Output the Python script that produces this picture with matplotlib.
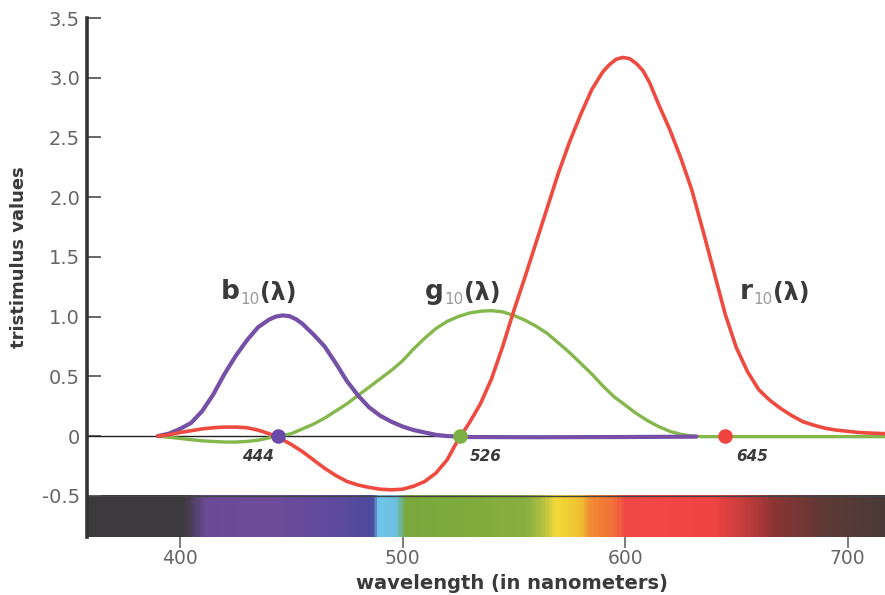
import numpy as np
import matplotlib
matplotlib.use('Agg')
import matplotlib.pyplot as plt
from matplotlib.colors import LinearSegmentedColormap

# tristimulus curves (wavelength in nm)
b_nm = [390, 395, 400, 405, 410, 415, 420, 425, 430, 435, 440, 443, 446, 449, 452, 455, 460,
        465, 470, 475, 480, 485, 490, 495, 500, 505, 510, 515, 520, 530, 560, 600, 632]
b_val = [0.0, 0.02, 0.06, 0.11, 0.21, 0.35, 0.52, 0.67, 0.80, 0.91, 0.975, 1.0, 1.01, 1.005, 0.98,
         0.94, 0.85, 0.75, 0.61, 0.46, 0.34, 0.24, 0.17, 0.12, 0.08, 0.05, 0.03, 0.01, 0.0,
         -0.008, -0.01, -0.008, -0.005]

g_nm = [390, 395, 400, 405, 410, 415, 420, 425, 430, 435, 440, 445, 450, 455, 460, 465, 470,
        475, 480, 485, 490, 495, 500, 505, 510, 515, 520, 525, 530, 535, 540, 545, 550, 555,
        560, 565, 570, 575, 580, 585, 590, 595, 600, 605, 610, 615, 620, 625, 630, 635, 717]
g_val = [0.0, -0.01, -0.02, -0.03, -0.04, -0.045, -0.05, -0.05, -0.045, -0.035, -0.015, 0.0, 0.02,
         0.06, 0.10, 0.15, 0.21, 0.27, 0.34, 0.41, 0.48, 0.55, 0.63, 0.73, 0.82, 0.90, 0.96, 1.00,
         1.03, 1.045, 1.05, 1.04, 1.01, 0.97, 0.92, 0.86, 0.78, 0.70, 0.61, 0.52, 0.42, 0.33, 0.26,
         0.19, 0.13, 0.08, 0.04, 0.015, 0.0, -0.005, -0.005]

r_nm = [390, 395, 400, 405, 410, 415, 420, 425, 430, 435, 440, 445, 450, 455, 460, 465, 470,
        475, 480, 485, 490, 495, 500, 505, 510, 515, 520, 525, 530, 535, 540, 545, 550, 555,
        560, 565, 570, 575, 580, 585, 590, 593, 596, 599, 602, 605, 608, 611, 615, 620, 625,
        630, 635, 640, 645, 650, 655, 660, 665, 670, 675, 680, 685, 690, 695, 700, 705, 710, 717]
r_val = [0.0, 0.01, 0.03, 0.045, 0.06, 0.07, 0.075, 0.075, 0.07, 0.05, 0.02, -0.02, -0.07, -0.13,
         -0.20, -0.27, -0.33, -0.38, -0.41, -0.43, -0.445, -0.45, -0.445, -0.42, -0.38, -0.31,
         -0.20, -0.03, 0.11, 0.27, 0.48, 0.75, 1.05, 1.33, 1.62, 1.91, 2.20, 2.46, 2.69, 2.90,
         3.05, 3.11, 3.155, 3.17, 3.16, 3.12, 3.06, 2.96, 2.78, 2.57, 2.33, 2.06, 1.72, 1.37,
         1.02, 0.74, 0.54, 0.39, 0.30, 0.23, 0.17, 0.12, 0.09, 0.065, 0.05, 0.04, 0.03, 0.025,
         0.02]

# zero crossings marked on the axis
mark_nm = [444, 526, 645]
mark_txt = ['444', '526', '645']

curve_letters = ['b', 'g', 'r']

# colours of the spectrum strip under the plot
spec_nm = [358, 401, 411, 440, 470, 486, 489, 497, 501, 530, 556, 563, 569, 580, 584,
           595, 600, 640, 655, 668, 690, 717]
spec_col = ['#3c3a3c', '#3c3a3c', '#6a4a96', '#6e4c9a', '#5e4a9e', '#4c4a9c', '#70c6ec',
            '#6cc0e0', '#7aa83c', '#80ac3c', '#88b040', '#b4c040', '#f2da3a', '#f0c030',
            '#f08c34', '#f07038', '#f04848', '#f04444', '#c03c3c', '#8a3434', '#5e3a36',
            '#4a3a36']

yticks = [-0.5, 0, 0.5, 1.0, 1.5, 2.0, 2.5, 3.0, 3.5]
ylabels = ['-0.5', '0', '0.5', '1.0', '1.5', '2.0', '2.5', '3.0', '3.5']
xticks = [400, 500, 600, 700]

purple = '#7650a6'
green = '#84b84c'
red = '#ee4a40'
txt_dark = '#3a3a3a'
txt_grey = '#666666'

fig = plt.figure(figsize=(8.85, 5.95), dpi=100)
ax = fig.add_axes([0.0983, 0.0975, 0.9017, 0.8722])

x_lo, x_hi = 358.2, 716.8
y_lo, y_hi = -0.845, 3.5

# spectrum strip
pos = [(v - spec_nm[0]) / (spec_nm[-1] - spec_nm[0]) for v in spec_nm]
cmap = LinearSegmentedColormap.from_list('spectrum', list(zip(pos, spec_col)))
strip = np.linspace(0, 1, 600).reshape(1, -1)
ax.imshow(strip, cmap=cmap, aspect='auto', extent=[spec_nm[0], spec_nm[-1], y_lo, -0.5],
          zorder=1)
ax.axhline(-0.5, color='#444444', lw=1.0, zorder=2)

ax.axhline(0, color='#222222', lw=1.0, zorder=2)

ax.plot(g_nm, g_val, color=green, lw=2.4, zorder=3, solid_capstyle='round', solid_joinstyle='round')
ax.plot(b_nm, b_val, color=purple, lw=3.0, zorder=4, solid_capstyle='round', solid_joinstyle='round')
ax.plot(r_nm, r_val, color=red, lw=2.6, zorder=5, solid_capstyle='round', solid_joinstyle='round')

# crossing dots
for nm, c in zip(mark_nm, ['#6a4aa8', '#7cb044', '#f04440']):
    ax.plot([nm], [0], marker='o', ms=10.5, color=c, mec='none', zorder=6)

# numbers under the dots
for x, t in zip([435, 537.5, 657], mark_txt):
    ax.text(x, -0.175, t, ha='center', va='center', fontsize=11,
            fontweight='bold', style='italic', color=txt_dark)

# curve names: bold letter, light subscript 10, bold (λ)
for x, y, letter in zip([418.5, 510, 651.5], [1.145, 1.145, 1.145], curve_letters):
    t1 = ax.text(x, y, letter, ha='left', va='baseline', fontsize=19,
                 fontweight='bold', color=txt_dark)
    t2 = ax.annotate('10', xy=(1, 0), xycoords=t1, xytext=(0.5, -1), textcoords='offset points',
                     ha='left', va='bottom', fontsize=11, color='#9a9a9a')
    ax.annotate('(\u03bb)', xy=(1, 0), xycoords=(t2, t1), xytext=(0, 0),
                textcoords='offset points', ha='left', va='bottom', fontsize=17,
                fontweight='bold', color=txt_dark)

ax.set_xlim(x_lo, x_hi)
ax.set_ylim(y_lo, y_hi)

for s in ['top', 'right', 'bottom']:
    ax.spines[s].set_visible(False)
ax.spines['left'].set_color('#333333')
ax.spines['left'].set_linewidth(2.6)

ax.set_yticks(yticks)
ax.set_yticklabels(ylabels)
ax.set_xticks(xticks)
ax.tick_params(axis='y', direction='in', length=10, width=1.4, color='#666666',
               labelsize=14, labelcolor=txt_grey, pad=5)
ax.tick_params(axis='x', direction='out', length=8, width=1.2, color='#666666',
               labelsize=13.5, labelcolor=txt_grey, pad=1)

fig.text(0.021, 0.568, 'tristimulus values', rotation=90, ha='center', va='center',
         fontsize=13, fontweight='bold', color=txt_dark)
fig.text(0.578, 0.019, 'wavelength (in nanometers)', ha='center', va='center',
         fontsize=14, fontweight='bold', color=txt_dark)

fig.savefig('out.png', dpi=100, facecolor='white')
